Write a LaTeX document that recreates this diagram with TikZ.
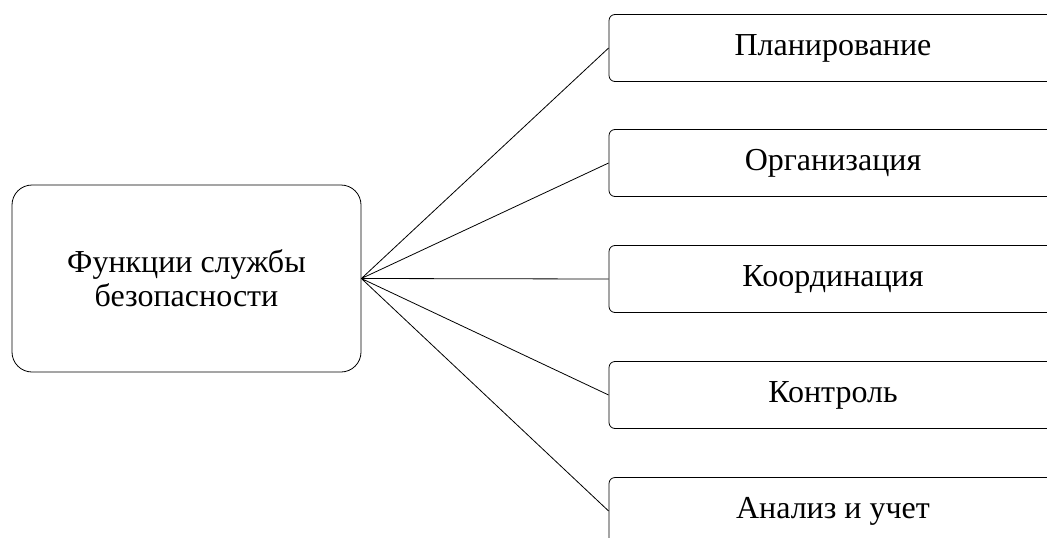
\documentclass[tikz,border=0pt]{standalone}
\usepackage{fontspec}
\setmainfont{Liberation Serif}
\begin{document}
\begin{tikzpicture}[x=1pt,y=-1pt,line width=0.8pt,
        mainbox/.style={draw,rounded corners=20pt,minimum width=349pt,minimum height=187pt,align=center,font=\fontsize{32}{34}\selectfont},
        funcbox/.style={draw,rounded corners=6pt,minimum width=448pt,minimum height=67pt,font=\fontsize{32}{34}\selectfont}]
        \useasboundingbox (0,0) rectangle (1047,538);
        \clip (0,0) rectangle (1047,538);
        \node[mainbox] (func) at (186.5,278.5) {Функции службы\\безопасности};
        \node[funcbox] (plan) at (833,48) {Планирование};
        \node[funcbox] (org) at (833,163) {Организация};
        \node[funcbox] (coord) at (833,279) {Координация};
        \node[funcbox] (ctrl) at (833,395) {Контроль};
        \node[funcbox] (anal) at (833,511) {Анализ и учет};
        \draw (func.east)--(plan.west) (func.east)--(org.west) (func.east)--(coord.west) (func.east)--(ctrl.west) (func.east)--(anal.west);
\end{tikzpicture}
\end{document}
